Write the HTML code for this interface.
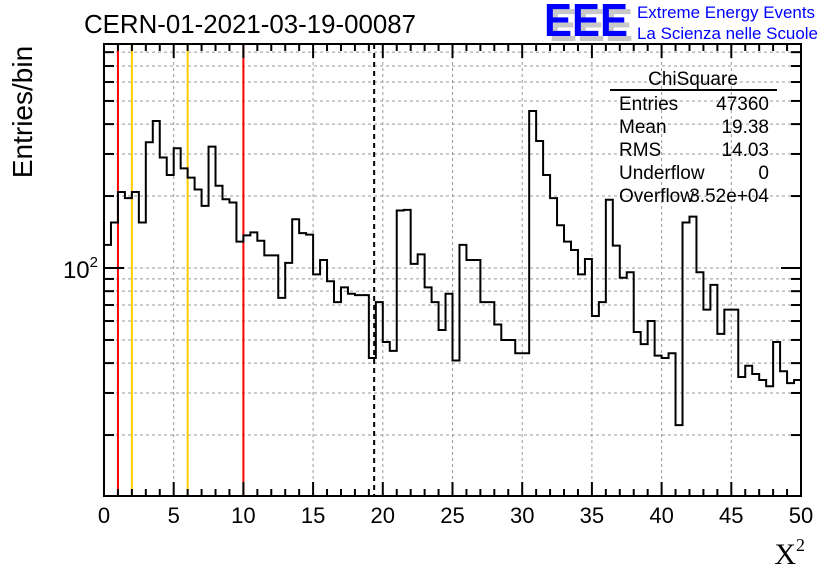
<!DOCTYPE html>
<html><head><meta charset="utf-8"><style>
body{margin:0;background:#fff;}
svg{display:block;font-family:"Liberation Sans",sans-serif;}
</style></head><body>
<svg id="c" width="836" height="572" viewBox="0 0 836 572">
<g id="grid"></g>
<g id="lines"></g>
<path id="hist" fill="none" stroke="#000" stroke-width="2"/>
<g id="axes"></g>
<text x="84" y="33" font-size="25.5" textLength="332" lengthAdjust="spacingAndGlyphs">CERN-01-2021-03-19-00087</text>
<g>
<text x="549" y="41" font-size="46" font-weight="bold" fill="#c8c8c8" textLength="84" lengthAdjust="spacingAndGlyphs">EEE</text>
<text x="544" y="36" font-size="46" font-weight="bold" fill="#0000ff" textLength="84" lengthAdjust="spacingAndGlyphs">EEE</text>
<text x="637" y="18" font-size="17" fill="#0000ff" textLength="178" lengthAdjust="spacingAndGlyphs">Extreme Energy Events</text>
<text x="637" y="39" font-size="17" fill="#0000ff" textLength="181" lengthAdjust="spacingAndGlyphs">La Scienza nelle Scuole</text>
</g>
<g font-size="19">
<text x="693" y="85" text-anchor="middle">ChiSquare</text>
<line x1="610" y1="90" x2="777" y2="90" stroke="#000" stroke-width="2"/>
<text x="619" y="110">Entries</text><text x="769" y="110" text-anchor="end">47360</text>
<text x="619" y="133">Mean</text><text x="769" y="133" text-anchor="end">19.38</text>
<text x="619" y="156">RMS</text><text x="769" y="156" text-anchor="end">14.03</text>
<text x="619" y="179">Underflow</text><text x="769" y="179" text-anchor="end">0</text>
<text x="619" y="202">Overflow</text><text x="769" y="202" text-anchor="end">3.52e+04</text>
</g>
<text x="32" y="112" font-size="28" transform="rotate(-90 32 112)" text-anchor="middle">Entries/bin</text>
<text x="805" y="564" font-size="30" text-anchor="end" font-family="Liberation Serif,serif">X<tspan font-size="18" dy="-13">2</tspan></text>
</svg>
<script>
const counts=[125,155,208,196,208,155,336,412,290,245,317,261,239,213,182,322,221,194,188,129,
137,141,130,113,113,75,105,160,140,138,94,108,88,72,83,78,77,77,42,72,
49,45,174,175,104,114,83,72,55,78,41,125,108,108,72,72,58,50,50,44,
44,454,340,245,196,151,129,119,94,109,63,72,193,124,91,96,54,48,60,43,
42,44,22,155,164,96,67,85,53,67,67,35,39,36,34,32,49,37,33,34];
const xTicks=[0,5,10,15,20,25,30,35,40,45,50];
const yMajor=[100];
const yMinor=[20,30,40,50,60,70,80,90,200,300,400,500,600,700,800];
const redCuts=[1,10];
const yellowCuts=[2,6];
const meanVal=19.38;
const X0=104,X1=801,Y0=44,Y1=496;
const binW=0.5;
function xs(v){return X0+(X1-X0)*v/50;}
function ys(v){return 268-239*Math.log10(v/100);}
const NS="http://www.w3.org/2000/svg";
function mk(p,tag,a){const e=document.createElementNS(NS,tag);for(const k in a)e.setAttribute(k,a[k]);p.appendChild(e);return e;}
const grid=document.getElementById('grid'),axes=document.getElementById('axes'),lines=document.getElementById('lines');
xTicks.forEach(v=>{if(v>0&&v<50){const l=mk(grid,'line',{x1:xs(v),x2:xs(v),y1:Y0,y2:Y1,stroke:'#999','stroke-dasharray':'3,3','stroke-width':1});

}});
yMajor.concat(yMinor).forEach(v=>{const y=ys(v);const l=mk(grid,'line',{x1:X0,x2:X1,y1:y,y2:y,stroke:'#999','stroke-dasharray':'3,3','stroke-width':1});

});
let d='M'+X0+','+Y1;
counts.forEach((c,i)=>{const y=Math.min(Y1,ys(c));d+=' L'+xs(i*binW)+','+y+' L'+xs((i+1)*binW)+','+y;});
d+=' L'+X1+','+Y1;
document.getElementById('hist').setAttribute('d',d);
redCuts.forEach(v=>{const l=mk(lines,'line',{x1:xs(v),x2:xs(v),y1:Y0,y2:Y1,stroke:'#ff0000','stroke-width':2});

});
yellowCuts.forEach(v=>{const l=mk(lines,'line',{x1:xs(v),x2:xs(v),y1:Y0,y2:Y1,stroke:'#ffcc00','stroke-width':2});

});
const ml=mk(lines,'line',{x1:xs(meanVal),x2:xs(meanVal),y1:Y0,y2:Y1,stroke:'#000','stroke-width':2,'stroke-dasharray':'5,4'});


mk(axes,'rect',{x:X0,y:Y0,width:X1-X0,height:Y1-Y0,fill:'none',stroke:'#000','stroke-width':2});
for(let v=0;v<=50;v++){const x=xs(v);const L=(v%5===0)?14:7;
mk(axes,'line',{x1:x,x2:x,y1:Y1,y2:Y1-L,stroke:'#000','stroke-width':2});
mk(axes,'line',{x1:x,x2:x,y1:Y0,y2:Y0+L,stroke:'#000','stroke-width':2});}
xTicks.forEach(v=>{const t=mk(axes,'text',{x:xs(v),y:523,'font-size':22,'text-anchor':'middle'});t.textContent=v;

});
yMajor.forEach(v=>{const y=ys(v);mk(axes,'line',{x1:X0,x2:X0+20,y1:y,y2:y,stroke:'#000','stroke-width':2});mk(axes,'line',{x1:X1,x2:X1-20,y1:y,y2:y,stroke:'#000','stroke-width':2});
const t=mk(axes,'text',{x:98,y:y+10,'font-size':24,'text-anchor':'end'});t.innerHTML='10<tspan font-size="15" dy="-11">2</tspan>';

});
yMinor.forEach(v=>{const y=ys(v);mk(axes,'line',{x1:X0,x2:X0+10,y1:y,y2:y,stroke:'#000','stroke-width':2});mk(axes,'line',{x1:X1,x2:X1-10,y1:y,y2:y,stroke:'#000','stroke-width':2});});
</script>
</body></html>
